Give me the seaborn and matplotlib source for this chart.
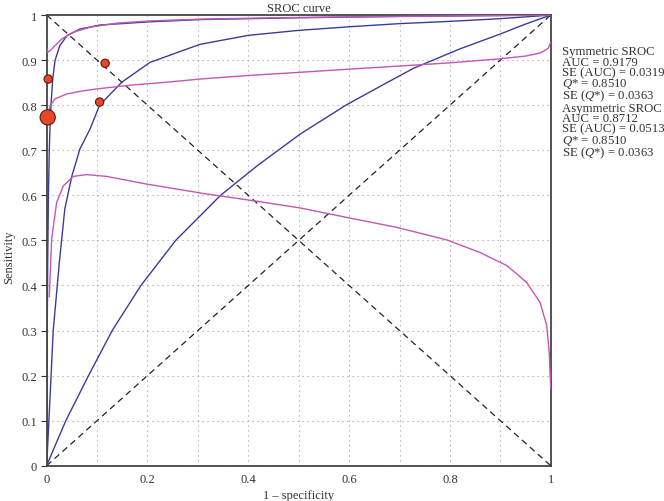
import matplotlib
matplotlib.use("Agg")
import matplotlib.pyplot as plt
import pandas as pd
import numpy as np
import seaborn as sns

# curves (1 - specificity, sensitivity)
sym_x = [0, 0.0005, 0.001, 0.002, 0.0035, 0.005, 0.0065, 0.0085, 0.012, 0.0165, 0.026,
         0.040, 0.066, 0.106, 0.205, 0.304, 0.5, 0.7, 0.9, 1.0]
sym_y = [0, 0.12, 0.28, 0.45, 0.60, 0.69, 0.75, 0.80, 0.858, 0.899, 0.932,
         0.954, 0.969, 0.978, 0.985, 0.990, 0.994, 0.997, 0.999, 1.0]

asym_x = [0, 0.0066, 0.013, 0.025, 0.036, 0.050, 0.066, 0.086, 0.105, 0.149, 0.205,
          0.304, 0.40, 0.50, 0.60, 0.70, 0.80, 0.90, 1.0]
asym_y = [0, 0.15, 0.30, 0.45, 0.57, 0.643, 0.703, 0.747, 0.80, 0.851, 0.895,
          0.935, 0.955, 0.966, 0.974, 0.981, 0.986, 0.992, 1.0]

low_x = [0, 0.015, 0.038, 0.083, 0.130, 0.187, 0.256, 0.345, 0.417, 0.503, 0.595,
         0.675, 0.728, 0.82, 0.90, 0.95, 1.0]
low_y = [0, 0.04, 0.10, 0.20, 0.30, 0.40, 0.50, 0.60, 0.665, 0.736, 0.801,
         0.85, 0.882, 0.925, 0.958, 0.98, 1.0]

ci_top_x = [0, 0.002, 0.0066, 0.0165, 0.030, 0.053, 0.086, 0.139, 0.205, 0.304,
            0.45, 0.6, 0.8, 1.0]
ci_top_y = [0.926, 0.917, 0.921, 0.932, 0.947, 0.962, 0.973, 0.982, 0.987, 0.991,
            0.994, 0.996, 0.998, 1.0]

ci_mid_x = [0.001, 0.0066, 0.0165, 0.040, 0.073, 0.106, 0.172, 0.238, 0.304, 0.40,
            0.503, 0.60, 0.702, 0.80, 0.90, 0.95, 0.98, 0.995, 1.0]
ci_mid_y = [0.765, 0.799, 0.814, 0.825, 0.832, 0.837, 0.845, 0.851, 0.858, 0.866,
            0.873, 0.880, 0.887, 0.894, 0.903, 0.909, 0.916, 0.926, 0.94]

ci_low_x = [0.0052, 0.0099, 0.0198, 0.033, 0.053, 0.079, 0.119, 0.198, 0.317, 0.41,
            0.503, 0.595, 0.694, 0.794, 0.86, 0.913, 0.952, 0.979, 0.992, 0.997, 1.0]
ci_low_y = [0.374, 0.503, 0.584, 0.621, 0.642, 0.646, 0.642, 0.625, 0.603, 0.588,
            0.572, 0.551, 0.529, 0.501, 0.473, 0.444, 0.407, 0.362, 0.311, 0.252, 0.17]

diag_x = [0, 1]
diag_y = [0, 1]
anti_y = [1, 0]

# studies
study_fpr = [0.003, 0.116, 0.105, 0.002]
study_sens = [0.858, 0.893, 0.807, 0.773]
study_weight = [1.0, 1.0, 1.0, 3.3]

sym_lines = ["Symmetric SROC", "AUC = 0.9179", "SE (AUC) = 0.0319",
             r"$Q$* = 0.8510", r"SE ($Q$*) = 0.0363"]
asym_lines = ["Asymmetric SROC", "AUC = 0.8712", "SE (AUC) = 0.0513",
              r"$Q$* = 0.8510", r"SE ($Q$*) = 0.0363"]

sns.set_theme(style="white")
plt.rcParams["font.family"] = ["Liberation Serif", "DejaVu Serif"]
plt.rcParams["mathtext.fontset"] = "custom"
plt.rcParams["mathtext.it"] = "Liberation Serif:italic"
plt.rcParams["mathtext.rm"] = "Liberation Serif"

blue = "#3c3c98"
pink = "#c456b4"

fig, ax = plt.subplots(figsize=(6.64, 5.02), dpi=100)
fig.subplots_adjust(left=0.0703, right=0.8294, bottom=0.0703, top=0.968)

ax.plot(diag_x, diag_y, color="#222222", lw=0.9, ls=(0, (5, 3.5)), zorder=2)
ax.plot(diag_x, anti_y, color="#222222", lw=0.9, ls=(0, (5, 3.5)), zorder=2)

curves = [
    (low_x, low_y, blue),
    (asym_x, asym_y, blue),
    (sym_x, sym_y, blue),
    (ci_low_x, ci_low_y, pink),
    (ci_mid_x, ci_mid_y, pink),
    (ci_top_x, ci_top_y, pink),
]
for cx, cy, col in curves:
    df = pd.DataFrame({"x": cx, "y": cy})
    sns.lineplot(data=df, x="x", y="y", sort=False, estimator=None,
                 color=col, lw=1.0, ax=ax, zorder=3)

pts = pd.DataFrame({"fpr": study_fpr, "sens": study_sens, "w": study_weight})
sns.scatterplot(data=pts, x="fpr", y="sens", size="w", sizes=(36, 120),
                color="#e8472a", edgecolor="#5a1a0e", linewidth=0.8,
                legend=False, ax=ax, zorder=5, clip_on=False)

ax.set_xlim(0, 1)
ax.set_ylim(0, 1)
ax.set_xticks(np.arange(0, 1.01, 0.2))
ax.set_xticks(np.arange(0, 1.01, 0.1), minor=True)
ax.set_yticks(np.arange(0, 1.01, 0.1))
ax.set_xticklabels(["0", "0.2", "0.4", "0.6", "0.8", "1"])
ax.set_yticklabels(["0", "0.1", "0.2", "0.3", "0.4", "0.5", "0.6", "0.7", "0.8", "0.9", "1"])
ax.tick_params(axis="x", which="both", length=0, labelsize=9, pad=5, colors="#333333")
ax.tick_params(axis="y", length=4, width=0.8, direction="out", labelsize=9,
               pad=3, colors="#333333", left=True)
ax.grid(True, which="both", color="#9a9a9a", ls=(0, (1, 3.5)), lw=0.8)

for s in ax.spines.values():
    s.set_color("#444444")
    s.set_linewidth(1.3)

ax.set_xlabel("1 – specificity", fontsize=9, color="#333333", labelpad=3)
ax.set_ylabel("Sensitivity", fontsize=9, color="#333333")
ax.yaxis.set_label_coords(-0.062, 0.465)
ax.set_title("SROC curve", fontsize=9, color="#333333", pad=3)

fig.text(562 / 664, 1 - 75.3 / 502, "\n".join(sym_lines), fontsize=9.2,
         color="#333333", ha="left", va="center", linespacing=0.81)
fig.text(562 / 664, 1 - 132.0 / 502, "\n".join(asym_lines), fontsize=9.2,
         color="#333333", ha="left", va="center", linespacing=0.81)

fig.savefig("out.png", dpi=100)
